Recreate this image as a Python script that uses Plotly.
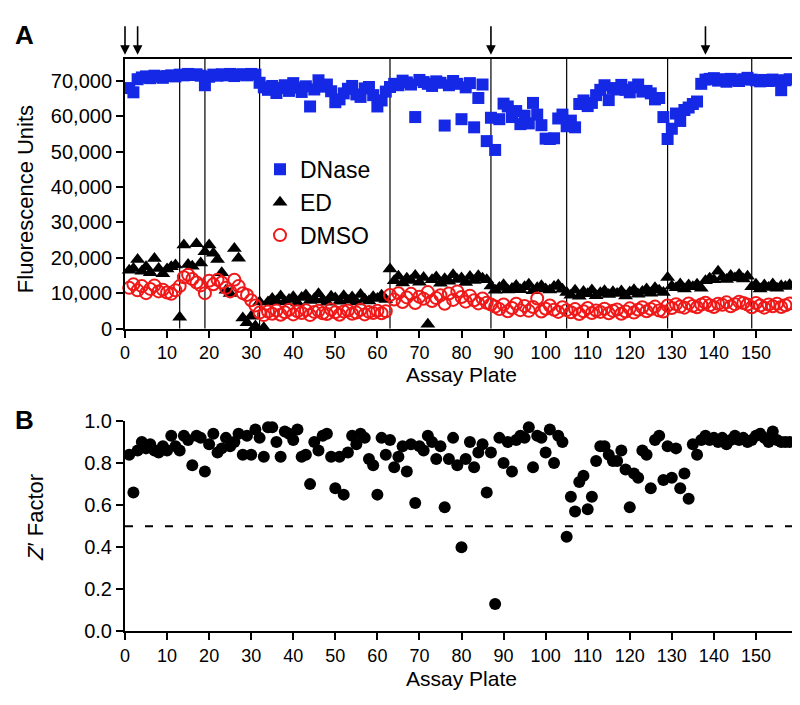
import plotly.graph_objects as go

# ---------------- data ----------------
dnase = [68.0, 66.8, 70.5, 71.0, 71.3, 70.8, 71.5, 71.2, 70.9, 71.4,
         71.6, 71.3, 71.8, 71.6, 72.0, 71.7, 71.9, 71.5, 68.8, 71.2,
         71.8, 71.5, 71.9, 71.6, 72.0, 71.4, 71.8, 71.9, 71.6, 72.0,
         71.8, 69.5, 68.2, 67.5, 68.6, 66.6, 68.0, 68.8, 67.2, 69.4,
         68.1, 66.9, 68.5, 62.8, 67.6, 70.2, 68.4, 69.0, 67.1, 64.0,
         64.8, 66.5, 67.8, 68.6, 66.2, 65.5, 67.9, 68.3, 66.0, 62.8,
         64.5, 67.0, 68.3, 69.2, 68.8, 70.1, 69.6, 69.0, 59.8, 70.3,
         69.7, 69.2, 68.6, 69.9, 69.5, 57.4, 68.8, 70.0, 69.2, 59.2,
         68.2, 69.4, 56.9, 65.2, 69.0, 53.0, 59.6, 50.5, 59.2, 63.6,
         62.8, 59.8, 61.5, 57.8, 60.2, 58.0, 63.8, 60.5, 57.5, 53.7,
         53.6, 53.8, 59.4, 60.5, 57.2, 58.8, 56.9, 63.5, 64.5, 62.9,
         63.8, 66.0, 67.5, 68.8, 64.6, 68.0, 67.6, 68.9, 67.5, 66.8,
         68.2, 69.0, 67.0, 67.2, 66.5, 64.8, 65.2, 59.8, 53.6, 56.5,
         60.8, 58.7, 61.8, 62.5, 63.5, 64.2, 69.2, 70.4, 70.6, 70.8,
         70.1, 70.5, 69.8, 70.6, 70.2, 70.0, 70.5, 70.9, 70.4, 70.2,
         69.9, 70.3, 70.0, 70.4, 70.1, 67.4, 70.2, 70.5]

ed = [16.5, 17.0, 19.5, 16.2, 17.5, 15.8, 19.8, 17.0, 15.5, 16.8,
      17.5, 18.0, 3.2, 23.6, 18.1, 17.6, 24.0, 18.5, 21.7, 23.6,
      21.3, 19.5, 15.8, 10.8, 9.9, 22.6, 19.9, 3.0, 1.6, 3.5,
      0.7, 7.5, 0.2,
      7.5, 8.5, 7.8, 9.2, 7.6, 8.2, 9.0, 7.2, 8.8, 9.5,
      7.9, 8.4, 9.8, 8.1, 7.4, 9.1, 8.6, 7.7, 9.3, 8.0,
      8.9, 7.5, 9.6, 8.3, 7.8, 9.0, 8.5, 9.4, 8.2,
      16.8, 13.5, 14.8, 12.9, 14.2, 13.6, 15.0, 13.1, 14.4, 1.2,
      13.8, 14.6, 12.8, 14.1, 13.4, 15.2, 13.9, 14.3, 13.0, 14.7,
      13.6, 14.9, 14.2, 13.8,
      12.0, 10.8, 11.6, 12.4, 10.9, 11.3, 12.2, 11.0, 11.8, 12.5,
      10.7, 11.5, 12.1, 11.2, 10.9, 11.9, 12.3, 11.1,
      10.2, 9.4, 10.8, 9.1, 10.5, 9.8, 10.9, 9.3, 10.1, 10.7,
      9.6, 10.4, 9.9, 10.6, 9.2, 10.3, 11.0, 9.7, 10.5, 11.2,
      10.0, 11.5, 10.8, 10.2,
      14.4, 12.0, 11.5, 12.6, 11.2, 12.3, 11.8, 12.5, 11.4,
      13.5, 14.2, 13.8, 16.2, 14.5, 13.9, 15.0, 14.3, 15.3, 14.0, 14.8,
      11.8, 12.5, 11.2, 12.3, 11.6, 12.6, 11.4, 12.1, 11.9, 12.4]

dmso = [11.5, 12.5, 10.8, 12.0, 10.0, 11.2, 12.2, 10.5, 11.0, 10.2,
        9.8, 10.8, 12.0, 14.5, 15.2, 14.0, 13.0, 12.2, 10.0, 13.5,
        12.5, 13.8, 13.0, 11.5, 10.5, 13.8, 12.0, 10.0, 9.5, 8.0,
        6.5, 4.5, 3.8,
        4.8, 4.2, 5.1, 3.9, 4.6, 5.3, 4.0, 4.9, 4.4, 5.2,
        3.8, 4.7, 5.0, 4.3, 4.1, 5.4, 4.6, 3.9, 4.8, 5.1,
        4.2, 4.5, 5.3, 4.0, 4.7, 4.4, 5.0, 4.3, 4.9,
        9.5, 8.2, 10.0, 7.5, 8.8, 9.8, 7.2, 9.0, 8.4, 10.3,
        7.8, 8.6, 9.4, 7.0, 9.9, 8.1, 10.5, 8.9, 7.6, 9.3,
        8.0, 7.1, 8.5, 7.3, 6.8,
        6.2, 5.5, 6.8, 4.9, 5.8, 7.0, 5.2, 6.4, 5.0, 6.1,
        8.5, 4.8, 5.6, 6.5, 5.3, 4.7, 6.0,
        5.2, 4.6, 5.5, 4.1, 4.9, 5.8, 4.4, 5.1, 4.7, 5.6,
        4.3, 5.0, 5.4, 4.2, 4.8, 5.7, 4.5, 5.3, 6.0, 4.9,
        5.5, 6.2, 5.1, 4.8,
        6.5, 5.8, 6.9, 6.2, 5.9, 7.1, 6.4, 6.0, 6.8, 7.3,
        6.6, 6.1, 7.0, 6.7, 7.4, 6.3, 6.9, 7.6, 7.2, 6.8,
        6.0, 7.2, 6.5, 5.9, 6.8, 6.3, 7.0, 6.1, 6.6, 7.1]

zprime = [0.84, 0.66, 0.86, 0.90, 0.87, 0.89, 0.86, 0.85, 0.88, 0.86,
          0.93, 0.88, 0.86, 0.93, 0.91, 0.79, 0.93, 0.92, 0.76, 0.89,
          0.94, 0.85, 0.87, 0.92, 0.88, 0.90, 0.94, 0.84, 0.93, 0.84,
          0.96, 0.92, 0.83, 0.97, 0.97, 0.90, 0.83, 0.95, 0.94, 0.91,
          0.96, 0.83, 0.84, 0.70, 0.90, 0.86, 0.93, 0.94, 0.83, 0.68,
          0.83, 0.65, 0.85, 0.93, 0.89, 0.94, 0.92, 0.82, 0.79, 0.65,
          0.92, 0.84, 0.91, 0.78, 0.83, 0.88, 0.76, 0.89, 0.61, 0.88,
          0.86, 0.93, 0.90, 0.82, 0.88, 0.59, 0.82, 0.92, 0.79, 0.40,
          0.82, 0.90, 0.78, 0.85, 0.89, 0.66, 0.85, 0.13, 0.92, 0.80,
          0.90, 0.76, 0.91, 0.93, 0.92, 0.97, 0.78, 0.93, 0.92, 0.85,
          0.96, 0.80, 0.93, 0.90, 0.45, 0.64, 0.57, 0.71, 0.74, 0.58,
          0.64, 0.81, 0.88, 0.88, 0.84, 0.81, 0.81, 0.86, 0.77, 0.59,
          0.75, 0.73, 0.86, 0.84, 0.68, 0.91, 0.93, 0.72, 0.88, 0.73,
          0.87, 0.68, 0.75, 0.63, 0.89, 0.84, 0.91, 0.93, 0.91, 0.92,
          0.90, 0.92, 0.89, 0.91, 0.93, 0.91, 0.92, 0.90, 0.91, 0.93,
          0.94, 0.92, 0.90, 0.95, 0.91, 0.90, 0.90, 0.90]

plates = list(range(1, len(dnase) + 1))
plates_z = list(range(1, len(zprime) + 1))
divider_plates = [13, 19, 32, 63, 87, 105, 129, 149]
arrow_plates = [0, 3, 87, 138]
x_tick_vals = list(range(0, 161, 10))
x_tick_text = [str(v) for v in range(0, 151, 10)] + [""]
fu_tick_vals = list(range(0, 70001, 10000))
z_tick_vals = [0.0, 0.2, 0.4, 0.6, 0.8, 1.0]

# ---------------- figure ----------------
W, H = 800, 705
L, R = 117, 10
PW = W - L - R

def fy(px):
    return 1 - px / H

def fx(px):
    return (px - L) / PW

FONT = "Liberation Sans, Arial, sans-serif"
fig = go.Figure()

fig.add_trace(go.Scatter(x=plates, y=[v * 1000 for v in dnase], mode="markers", name="DNase",
                         marker=dict(symbol="square", size=12, color="#1428E6"),
                         xaxis="x", yaxis="y", cliponaxis=False))
fig.add_trace(go.Scatter(x=plates, y=[v * 1000 for v in ed], mode="markers", name="ED",
                         marker=dict(symbol="triangle-up", size=13, color="black"),
                         xaxis="x", yaxis="y", cliponaxis=False))
fig.add_trace(go.Scatter(x=plates, y=[v * 1000 for v in dmso], mode="markers", name="DMSO",
                         marker=dict(symbol="circle-open", size=12, color="#F01818",
                                     line=dict(width=2, color="#F01818")),
                         xaxis="x", yaxis="y", cliponaxis=False))
fig.add_trace(go.Scatter(x=plates_z, y=zprime, mode="markers", showlegend=False,
                         marker=dict(symbol="circle", size=12, color="black"),
                         xaxis="x2", yaxis="y2", cliponaxis=False))

axis_common = dict(showgrid=False, zeroline=False, showline=True, linecolor="black",
                   linewidth=2, ticks="outside", ticklen=7, tickwidth=2, tickcolor="black")
xtickfont = dict(family=FONT, size=18, color="black")
ytickfont = dict(family=FONT, size=20, color="black")

shapes = []
for p in divider_plates:
    shapes.append(dict(type="line", xref="x", yref="y domain", x0=p, x1=p, y0=0, y1=1,
                       line=dict(color="black", width=1.2), layer="below"))
shapes.append(dict(type="line", xref="x2", yref="y2", x0=0, x1=160, y0=0.5, y1=0.5,
                   line=dict(color="black", width=2, dash="8px,12px")))
shapes.append(dict(type="line", xref="x2 domain", yref="y2 domain", x0=1, x1=1, y0=0, y1=1,
                   line=dict(color="black", width=2)))

annotations = []
for p in arrow_plates:
    annotations.append(dict(x=p, xref="x", y=fy(37), yref="paper", text="", showarrow=True,
                            ax=0, ay=-30, arrowhead=2, arrowsize=1.2, arrowwidth=1.6,
                            arrowcolor="black"))
annotations.append(dict(text="<b>A</b>", x=fx(16), xref="paper", y=fy(17), yref="paper",
                        showarrow=False, xanchor="center", yanchor="middle",
                        font=dict(family=FONT, size=26, color="black")))
annotations.append(dict(text="<b>B</b>", x=fx(16), xref="paper", y=fy(414), yref="paper",
                        showarrow=False, xanchor="center", yanchor="middle",
                        font=dict(family=FONT, size=26, color="black")))
annotations.append(dict(text="Fluorescence Units", x=fx(17), xref="paper", y=fy(186), yref="paper",
                        showarrow=False, textangle=-90, xanchor="center", yanchor="middle",
                        font=dict(family=FONT, size=22, color="black")))
annotations.append(dict(text="<i>Z</i>\u2032 Factor", x=fx(28), xref="paper", y=fy(515), yref="paper",
                        showarrow=False, textangle=-90, xanchor="center", yanchor="middle",
                        font=dict(family=FONT, size=22, color="black")))

fig.update_layout(
    width=W, height=H,
    margin=dict(l=L, r=R, t=0, b=0),
    paper_bgcolor="white", plot_bgcolor="white",
    font=dict(family=FONT, color="black"),
    xaxis=dict(**axis_common, domain=[0, 1], range=[0, 160], anchor="y", tickfont=xtickfont,
               tickvals=x_tick_vals, ticktext=x_tick_text, mirror=True,
               title=dict(text="Assay Plate", font=dict(family=FONT, size=21), standoff=2)),
    yaxis=dict(**axis_common, domain=[fy(319.5), fy(41)], range=[0, 76300], anchor="x",
               tickfont=ytickfont, tickvals=fu_tick_vals, tickformat=",d", mirror=True),
    xaxis2=dict(**axis_common, domain=[0, 1], range=[0, 160], anchor="y2", tickfont=xtickfont,
                tickvals=x_tick_vals, ticktext=x_tick_text,
                title=dict(text="Assay Plate", font=dict(family=FONT, size=21), standoff=6)),
    yaxis2=dict(**axis_common, domain=[fy(632), fy(415)], range=[0, 1.0], anchor="x2",
                tickfont=ytickfont, tickvals=z_tick_vals, tickformat=".1f"),
    legend=dict(x=fx(252), y=fy(133), xanchor="left", yanchor="top",
                bgcolor="rgba(0,0,0,0)", font=dict(family=FONT, size=23, color="black"),
                itemwidth=30, tracegroupgap=0),
    shapes=shapes,
    annotations=annotations,
    showlegend=True,
)

fig.write_html("out.html")
